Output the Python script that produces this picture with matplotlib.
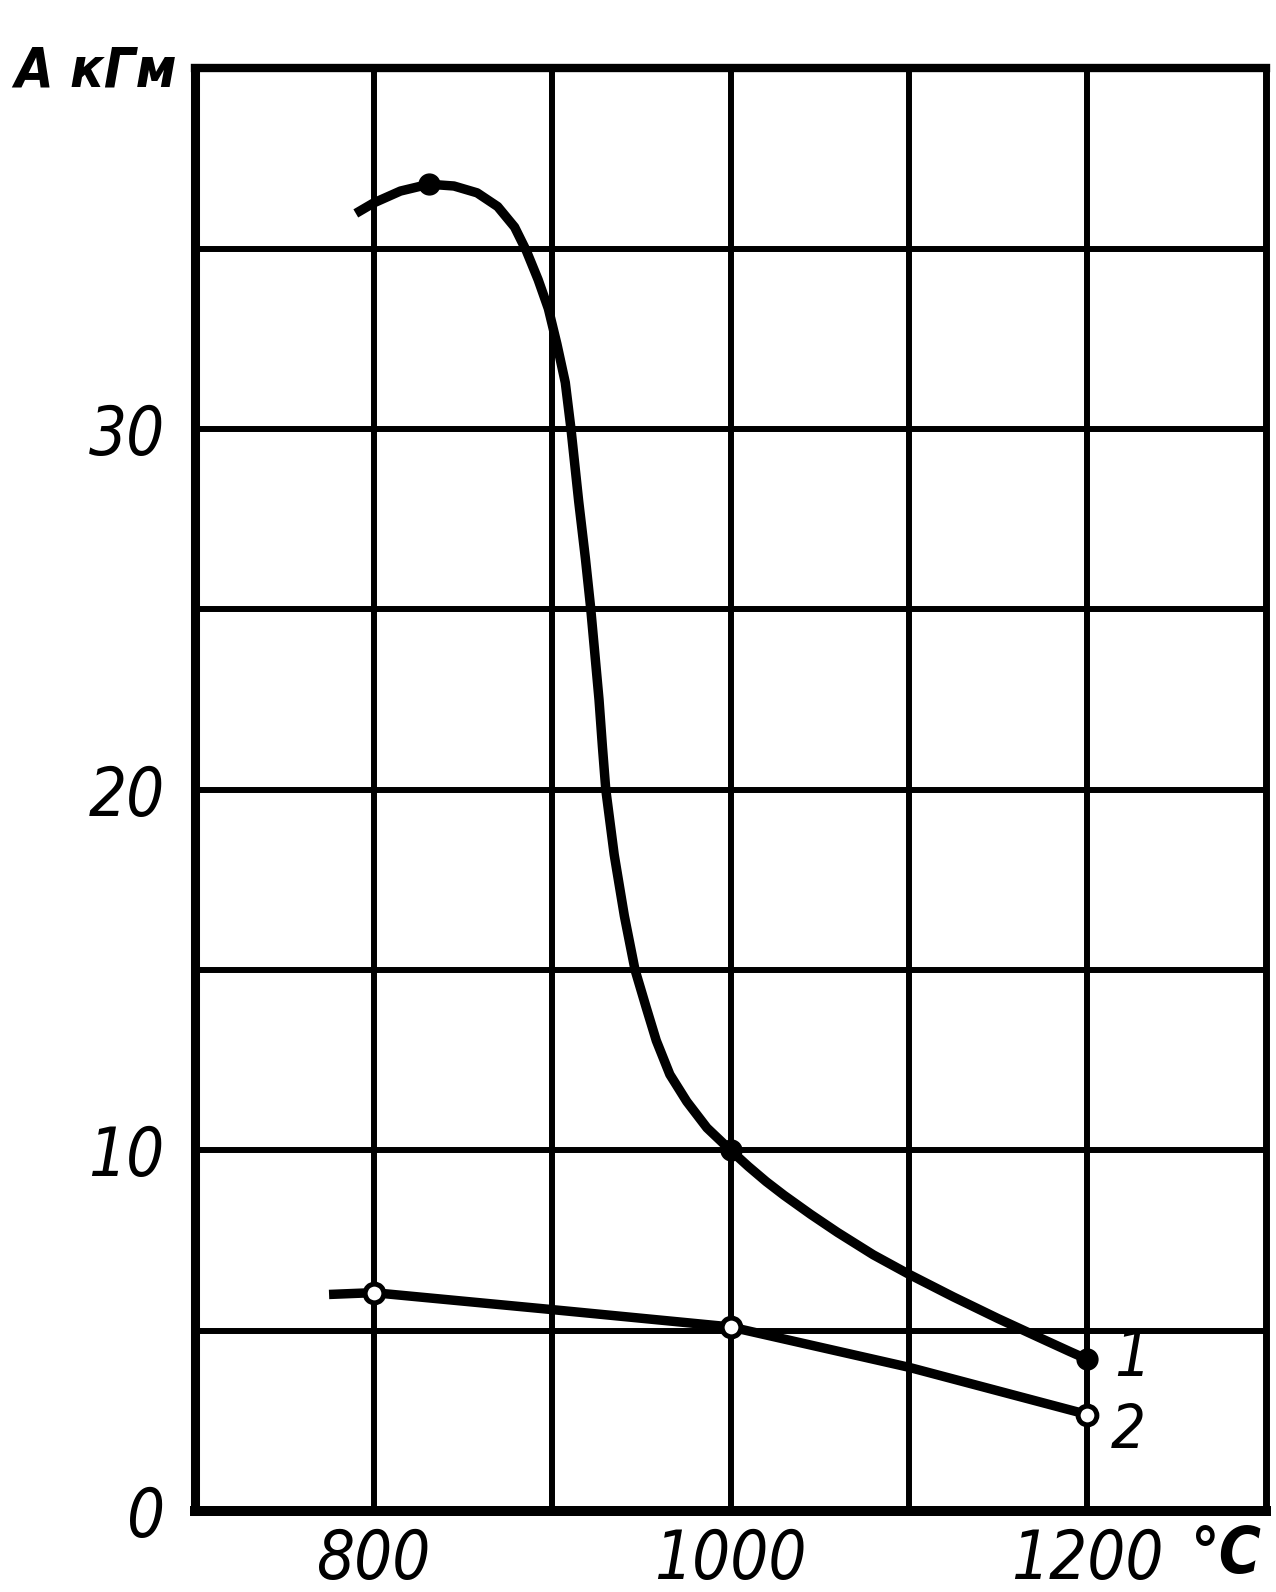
import matplotlib
matplotlib.use("Agg")
import matplotlib.pyplot as plt

# ---- data ----
curve1_t = [790, 800, 815, 831, 845, 858, 869.5, 879, 885.6, 892.2, 897.9, 902.7, 907.4, 910.6,
            914.9, 918.7, 921.6, 924, 926.3, 928.2, 930.1, 934.8, 940.5, 946.5, 952.8, 958.4, 966,
            975.5, 986.8, 1000, 1010, 1020, 1030, 1045, 1060, 1080, 1100, 1125, 1150, 1175,
            1190, 1200]
curve1_a = [35.98, 36.27, 36.6, 36.79, 36.74, 36.55, 36.17, 35.6, 34.94, 34.14, 33.34, 32.36, 31.29, 30.0,
            28.0, 26.4, 25.05, 23.75, 22.5, 21.2, 20.0, 18.2, 16.5, 15.0, 13.95, 13.04, 12.1,
            11.35, 10.62, 10.0, 9.55, 9.13, 8.75, 8.22, 7.72, 7.1, 6.56, 5.93, 5.33, 4.76,
            4.42, 4.2]
curve1_mark_t = [831, 1000, 1200]
curve1_mark_a = [36.79, 10.0, 4.2]

curve2_t = [775, 800, 900, 1000, 1100, 1200]
curve2_a = [6.0, 6.05, 5.58, 5.1, 3.98, 2.67]
curve2_mark_t = [800, 1000, 1200]
curve2_mark_a = [6.05, 5.1, 2.67]

x_grid = [700, 800, 900, 1000, 1100, 1200, 1300]
y_grid = [0, 5, 10, 15, 20, 25, 30, 35, 40]
x_labels = {800: "800", 1000: "1000", 1200: "1200"}
y_labels = {0: "0", 10: "10", 20: "20", 30: "30"}

FAM = ["DejaVu Sans"]
STRETCH = "condensed"

fig = plt.figure(figsize=(12.76, 15.92), dpi=100)
ax = fig.add_axes([0.153, 0.051, 0.839, 0.906])
ax.set_xlim(700, 1300)
ax.set_ylim(0, 40)

for xv in x_grid[1:-1]:
    ax.axvline(xv, color="black", lw=4.3, zorder=1)
for yv in y_grid[1:-1]:
    ax.axhline(yv, color="black", lw=4.3, zorder=1)

for side, w in (("left", 6.5), ("bottom", 7.2), ("top", 6.0), ("right", 5.0)):
    ax.spines[side].set_linewidth(w)
    ax.spines[side].set_color("black")

ax.set_xticks(x_grid)
ax.set_yticks(y_grid)
ax.set_xticklabels([x_labels.get(v, "") for v in x_grid])
ax.set_yticklabels([y_labels.get(v, "") for v in y_grid])
ax.tick_params(length=0, pad=12)
for lab in ax.get_xticklabels() + ax.get_yticklabels():
    lab.set_family(FAM)
    lab.set_stretch(STRETCH)
    lab.set_style("italic")
    lab.set_fontsize(48)
ax.tick_params(axis="y", pad=22)

ax.plot(curve1_t, curve1_a, color="black", lw=6.8, solid_capstyle="butt", solid_joinstyle="round", zorder=3)
ax.plot(curve1_mark_t, curve1_mark_a, "o", color="black", ms=15, zorder=4)
ax.plot(curve2_t, curve2_a, color="black", lw=6.8, solid_capstyle="butt", solid_joinstyle="round", zorder=3)
ax.plot(curve2_mark_t, curve2_mark_a, "o", mfc="white", mec="black", mew=3.6, ms=13.5, zorder=4)

ax.text(1225, 4.25, "1", family=FAM, stretch=STRETCH, style="italic", fontsize=46, ha="center", va="center")
ax.text(1223, 2.2, "2", family=FAM, stretch=STRETCH, style="italic", fontsize=44, ha="center", va="center")

fig.text(0.075, 0.955, "A кГм", family=FAM, stretch=STRETCH, style="italic", weight="bold", fontsize=40,
         ha="center", va="center")
fig.text(0.96, 0.023, "°C", family=FAM, stretch=STRETCH, style="italic", weight="bold", fontsize=46,
         ha="center", va="center")

fig.savefig("out.png", dpi=100, facecolor="white")
